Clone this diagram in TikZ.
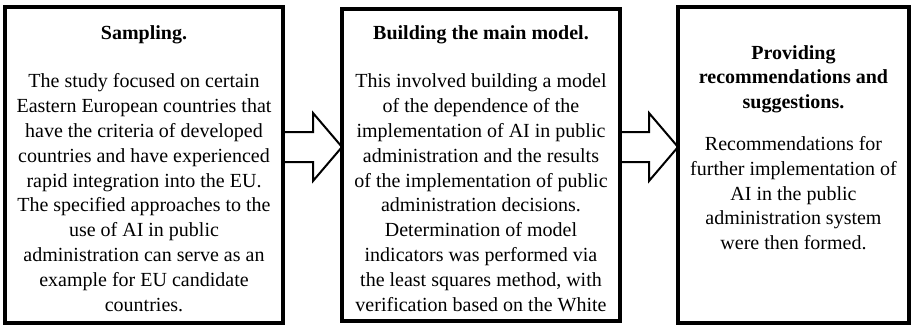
\documentclass[tikz,border=0pt]{standalone}
\usepackage{fontspec}
\setmainfont{Liberation Serif}
\usetikzlibrary{positioning,calc}

\begin{document}
\begin{tikzpicture}[x=1pt,y=1pt,
  stage/.style={draw,line width=3.5pt,outer sep=0pt,inner sep=0pt,
    minimum width=278pt,minimum height=316pt},
  stagetext/.style={anchor=north,align=center,inner sep=0pt,
    font=\fontsize{20}{24.8}\selectfont},
  blockarrow/.style={draw,line width=2pt,line join=miter}]
  \useasboundingbox (0,0) rectangle (911,325);
  % the three stages
  \node[stage] (samp) at (144,160) {};
  \node[stage,minimum height=312pt,right=59pt of samp] (model) {};
  \node[stage,minimum width=231pt,right=58pt of model] (recom) {};

  \node[stagetext] (samptext) at ([yshift=-18pt]samp.north)
    {\textbf{Sampling.}\\[24pt]
     The study focused on certain\\
     Eastern European countries that\\
     have the criteria of developed\\
     countries and have experienced\\
     rapid integration into the EU.\\
     The specified approaches to the\\
     use of AI in public\\
     administration can serve as an\\
     example for EU candidate\\
     countries.};
  \node[stagetext] (modeltext) at ([yshift=-16pt]model.north)
    {\textbf{Building the main model.}\\[24pt]
     This involved building a model\\
     of the dependence of the\\
     implementation of AI in public\\
     administration and the results\\
     of the implementation of public\\
     administration decisions.\\
     Determination of model\\
     indicators was performed via\\
     the least squares method, with\\
     verification based on the White};
  \node[stagetext] (recomtext) at ([yshift=-38pt]recom.north)
    {\textbf{Providing}\\
     \textbf{recommendations and}\\
     \textbf{suggestions.}\\[17pt]
     Recommendations for\\
     further implementation of\\
     AI in the public\\
     administration system\\
     were then formed.};

  % arrows between the stages
  \coordinate (flow) at (0,178);
  \draw[blockarrow] ($(samp.east |- flow)+(0,15)$) -- ++(30,0) -- ++(0,19)
    -- (model.west |- flow) -- ++(-29,-34) -- ++(0,19) -- ++(-30,0);
  \draw[blockarrow] ($(model.east |- flow)+(0,15)$) -- ++(29,0) -- ++(0,19)
    -- (recom.west |- flow) -- ++(-29,-34) -- ++(0,19) -- ++(-29,0);
\end{tikzpicture}
\end{document}
